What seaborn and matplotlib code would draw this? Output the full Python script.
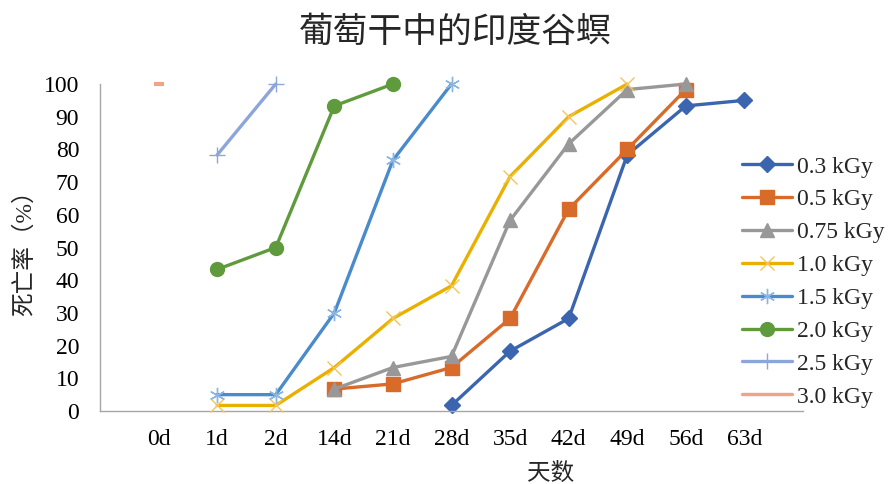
import numpy as np
import pandas as pd
import matplotlib
matplotlib.use("Agg")
import matplotlib.pyplot as plt
from matplotlib.lines import Line2D
import seaborn as sns

# ---- data -------------------------------------------------------------
days = ["0d", "1d", "2d", "14d", "21d", "28d", "35d", "42d", "49d", "56d", "63d"]
nan = np.nan
dose_03 = [nan, nan, nan, nan, nan, 1.7, 18.3, 28.3, 78.3, 93.3, 95.0]
dose_05 = [nan, nan, nan, 6.7, 8.3, 13.3, 28.3, 61.7, 80.0, 98.3, nan]
dose_075 = [nan, nan, nan, 6.7, 13.3, 16.7, 58.3, 81.7, 98.3, 100.0, nan]
dose_10 = [nan, 1.7, 1.7, 13.3, 28.3, 38.3, 71.7, 90.0, 100.0, nan, nan]
dose_15 = [nan, 5.0, 5.0, 30.0, 76.7, 100.0, nan, nan, nan, nan, nan]
dose_20 = [nan, 43.3, 50.0, 93.3, 100.0, nan, nan, nan, nan, nan, nan]
dose_25 = [nan, 78.3, 100.0, nan, nan, nan, nan, nan, nan, nan, nan]
dose_30 = [100.0, nan, nan, nan, nan, nan, nan, nan, nan, nan, nan]

series_names = ["0.3 kGy", "0.5 kGy", "0.75 kGy", "1.0 kGy",
                "1.5 kGy", "2.0 kGy", "2.5 kGy", "3.0 kGy"]
series_values = [dose_03, dose_05, dose_075, dose_10,
                 dose_15, dose_20, dose_25, dose_30]

title = "葡萄干中的印度谷螟"
xlabel = "天数"
ylabel = "死亡率（%）"

# ---- styles -----------------------------------------------------------
colors = ["#3C65AF", "#D86A2A", "#989898", "#EAB000",
          "#4A8BCB", "#5F9B3D", "#8EA5DA", "#F0A486"]
marker_colors = ["#3C65AF", "#D86A2A", "#989898", "#F2C55A",
                 "#8DB5E2", "#5F9B3D", "#8EA5DA", "#F0A486"]
markers = ["D", "s", "^", "x", (6, 2, 0), "o", "+", "_"]
msizes = [8.5, 10.5, 10.5, 10, 11, 10, 11, 7]
mews = [1, 1, 1, 1, 1, 1, 1, 3]

rows = []
for name, vals in zip(series_names, series_values):
    for i, v in enumerate(vals):
        if not np.isnan(v):
            rows.append({"dose": name, "pos": i + 1, "rate": v})
df = pd.DataFrame(rows)

sns.set_theme(style="white")
plt.rcParams["font.family"] = ["Liberation Serif", "Noto Sans CJK SC", "DejaVu Sans"]

fig = plt.figure(figsize=(8.88, 4.84), dpi=100)
ax = fig.add_axes([100 / 888, 1 - 411 / 484, 703 / 888, 327 / 484])

handles = []
for k, name in enumerate(series_names):
    sub = df[df["dose"] == name]
    sns.lineplot(data=sub, x="pos", y="rate", ax=ax, color=colors[k],
                 lw=2.4, marker=markers[k], markersize=msizes[k],
                 markeredgewidth=mews[k], markerfacecolor=marker_colors[k],
                 markeredgecolor=marker_colors[k], legend=False,
                 errorbar=None, zorder=2 + k, clip_on=False)
    if name == "3.0 kGy":
        handles.append(Line2D([], [], color=colors[k], lw=2.4))
    else:
        handles.append(Line2D([], [], color=colors[k], lw=2.4, marker=markers[k],
                              markersize=msizes[k], markeredgewidth=mews[k],
                              markerfacecolor=marker_colors[k],
                              markeredgecolor=marker_colors[k]))

# ---- axes -------------------------------------------------------------
ax.set_xlim(0, len(days) + 1)
ax.set_ylim(0, 100)
ax.set_xticks(range(0, len(days) + 2))
ax.set_xticklabels([""] + days + [""])
ax.set_yticks(range(0, 101, 10))
ax.tick_params(axis="both", labelsize=17, colors="#A6A6A6", labelcolor="black",
               length=4, width=1, direction="out")
ax.tick_params(axis="x", pad=9)
ax.tick_params(axis="y", pad=11)
for side in ["top", "right"]:
    ax.spines[side].set_visible(False)
for side in ["left", "bottom"]:
    ax.spines[side].set_color("#A6A6A6")
    ax.spines[side].set_linewidth(1)
ax.set_xlabel(xlabel, fontsize=17)
ax.set_ylabel(ylabel, fontsize=17)
ax.xaxis.set_label_coords(451 / 703, -52 / 327)
ax.yaxis.set_label_coords(-64 / 703, 0.5)

fig.text(455 / 888, 1 - 32 / 484, title, ha="center", va="center",
         fontsize=25, family=["Noto Sans CJK SC"])

fig.legend(handles, series_names, loc="upper left",
           bbox_to_anchor=(742 / 888, 1 - 156 / 484), frameon=False,
           fontsize=17, handlelength=2.1, handletextpad=0.25,
           labelspacing=0.48, borderaxespad=0, borderpad=0)

fig.savefig("out.png", dpi=100)
